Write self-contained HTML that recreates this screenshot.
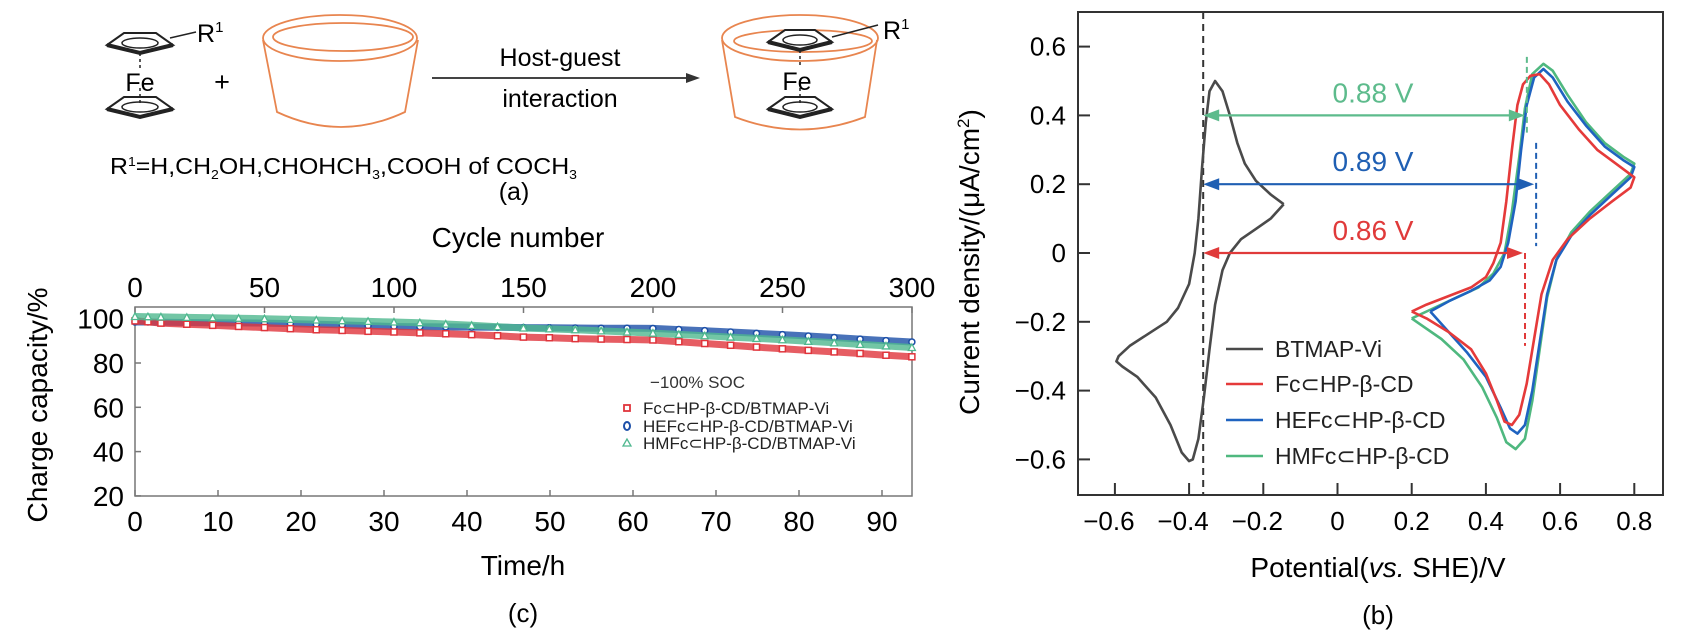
<!DOCTYPE html>
<html><head><meta charset="utf-8">
<style>
html,body{margin:0;padding:0;background:#fff;}
svg{display:block;font-family:"Liberation Sans",Arial,sans-serif;}
</style></head>
<body>
<svg id="fig" width="1687" height="633" viewBox="0 0 1687 633" xmlns="http://www.w3.org/2000/svg">
<g id="panelA">
  <g stroke="#222" fill="none">
    <polygon points="107,45 124,33 156,33 173,45 140,53" fill="#fff" stroke-width="2"/>
    <ellipse cx="140" cy="43" rx="18" ry="5" stroke-width="1.5"/>
    <path d="M107,45 L140,53 L173,45" stroke-width="4"/>
    <polygon points="107,109 124,97 156,97 173,109 140,117" fill="#fff" stroke-width="2"/>
    <ellipse cx="140" cy="107" rx="18" ry="5" stroke-width="1.5"/>
    <path d="M107,109 L140,117 L173,109" stroke-width="4"/>
    <line x1="140" y1="53" x2="140" y2="68" stroke-dasharray="3,3" stroke-width="1.5"/>
    <line x1="140" y1="88" x2="140" y2="104" stroke-dasharray="3,3" stroke-width="1.5"/>
    <line x1="170" y1="38" x2="196" y2="32" stroke-width="1.5"/>
  </g>
  <text x="197" y="42" font-size="25">R<tspan font-size="15" dy="-10">1</tspan></text>
  <text x="140" y="91" font-size="25" text-anchor="middle">Fe</text>
  <text x="222" y="91" font-size="27" text-anchor="middle">+</text>
  <g stroke="#e8854f" stroke-width="1.8" fill="none">
    <ellipse cx="340" cy="38" rx="77" ry="23"/>
    <ellipse cx="343" cy="37" rx="70" ry="14"/>
    <path d="M263,40 L277,112 Q341,142 405,112 L418,40"/>
  </g>
  <line x1="432" y1="78" x2="690" y2="78" stroke="#444" stroke-width="2"/>
  <polygon points="700,78 686,73 686,83" fill="#333"/>
  <text x="560" y="66" font-size="25" text-anchor="middle">Host-guest</text>
  <text x="560" y="107" font-size="25" text-anchor="middle">interaction</text>
  <g fill="none">
    <g stroke="#e8854f" stroke-width="1.8">
      <ellipse cx="800" cy="38" rx="78" ry="23"/>
      <ellipse cx="803" cy="41" rx="69" ry="11"/>
      <path d="M722,40 L735,117 Q800,142 865,117 L877,40"/>
    </g>
    <g stroke="#222">
      <polygon points="768,42 785,30 815,30 832,42 800,50" fill="#fff" stroke-width="2"/>
      <ellipse cx="800" cy="40" rx="17" ry="5" stroke-width="1.5"/>
      <path d="M768,42 L800,50 L832,42" stroke-width="4"/>
      <polygon points="768,109 785,97 815,97 832,109 800,117" fill="#fff" stroke-width="2"/>
      <ellipse cx="800" cy="107" rx="17" ry="5" stroke-width="1.5"/>
      <path d="M768,109 L800,117 L832,109" stroke-width="4"/>
      <line x1="800" y1="50" x2="800" y2="66" stroke-dasharray="3,3" stroke-width="1.5"/>
      <line x1="800" y1="88" x2="800" y2="104" stroke-dasharray="3,3" stroke-width="1.5"/>
      <line x1="832" y1="37" x2="878" y2="25" stroke-width="1.5"/>
    </g>
  </g>
  <text x="883" y="39" font-size="25">R<tspan font-size="15" dy="-10">1</tspan></text>
  <text x="797" y="90" font-size="25" text-anchor="middle">Fe</text>
  <text x="110" y="174" font-size="23" textLength="467" lengthAdjust="spacingAndGlyphs">R<tspan font-size="13" dy="-8">1</tspan><tspan dy="8">=H,CH</tspan><tspan font-size="13" dy="5">2</tspan><tspan dy="-5">OH,CHOHCH</tspan><tspan font-size="13" dy="5">3</tspan><tspan dy="-5">,COOH of COCH</tspan><tspan font-size="13" dy="5">3</tspan></text>
  <text x="514" y="200" font-size="25" text-anchor="middle">(a)</text>
</g>
<g id="panelC"></g>
<g id="panelB"></g>
</svg>
<script>
// ===== Panel (c) data =====
const cCycles = [0,5,10,20,30,40,50,60,70,80,90,100,110,120,130,140,150,160,170,180,190,200,210,220,230,240,250,260,270,280,290,300];
const cRed   = [99,98.6,98,97.5,97,96.5,96,95.5,95,94.7,94.3,94,93.6,93.2,92.8,92.3,91.7,91.4,91,90.8,90.6,90.4,89.6,88.8,88,87.2,86.4,85.7,85,84.3,83.5,82.8];
const cBlue  = [98.5,98.5,98.4,98.3,98.2,98.1,98,97.8,97.5,97.2,96.8,96.5,96.4,96.3,96.2,96.1,96,95.9,95.8,95.7,95.7,95.6,95.1,94.6,94,93.4,92.8,92.2,91.5,90.8,90.1,89.5];
const cGreen = [101,100.9,100.8,100.6,100.4,100.2,100,99.7,99.4,99.1,98.8,98.5,98.2,97.6,97,96.4,95.8,95.4,95,94.5,94,93.5,92.9,92.3,91.7,91.1,90.5,89.8,89.1,88.4,87.7,87];
const cTimeTicks = [0,10,20,30,40,50,60,70,80,90];
const cCycleTicks = [0,50,100,150,200,250,300];
const cYTicks = [20,40,60,80,100];
const cLegend = ["Fc\u2282HP-\u03b2-CD/BTMAP-Vi","HEFc\u2282HP-\u03b2-CD/BTMAP-Vi","HMFc\u2282HP-\u03b2-CD/BTMAP-Vi"];

// ===== Panel (b) data =====
const bBlackX = [-0.145,-0.18,-0.22,-0.26,-0.29,-0.31,-0.33,-0.345,-0.36,-0.375,-0.39,-0.40,-0.42,-0.45,-0.49,-0.54,-0.58,-0.596,-0.59,-0.56,-0.51,-0.46,-0.43,-0.40,-0.385,-0.375,-0.365,-0.355,-0.345,-0.33,-0.31,-0.29,-0.27,-0.25,-0.22,-0.18,-0.145];
const bBlackY = [0.142,0.10,0.07,0.04,0.0,-0.05,-0.15,-0.28,-0.42,-0.54,-0.60,-0.605,-0.58,-0.5,-0.42,-0.36,-0.33,-0.315,-0.30,-0.27,-0.235,-0.20,-0.16,-0.09,0.0,0.1,0.25,0.38,0.47,0.50,0.47,0.40,0.32,0.26,0.21,0.17,0.142];
const bRedX = [0.20,0.24,0.30,0.36,0.40,0.42,0.44,0.455,0.47,0.485,0.50,0.52,0.545,0.57,0.60,0.65,0.70,0.75,0.80,0.79,0.74,0.68,0.62,0.58,0.55,0.53,0.51,0.49,0.47,0.45,0.43,0.40,0.36,0.30,0.24,0.20];
const bRedY = [-0.17,-0.15,-0.125,-0.10,-0.07,-0.03,0.03,0.15,0.30,0.43,0.49,0.515,0.52,0.49,0.43,0.36,0.30,0.26,0.22,0.19,0.15,0.10,0.04,-0.02,-0.12,-0.25,-0.38,-0.47,-0.50,-0.49,-0.43,-0.35,-0.28,-0.23,-0.19,-0.17];
const bBlueX = [0.25,0.30,0.36,0.41,0.44,0.46,0.48,0.495,0.51,0.53,0.555,0.58,0.62,0.67,0.72,0.77,0.80,0.79,0.74,0.68,0.63,0.59,0.565,0.545,0.525,0.505,0.485,0.465,0.44,0.40,0.35,0.30,0.25];
const bBlueY = [-0.17,-0.14,-0.11,-0.08,-0.04,0.03,0.15,0.30,0.43,0.51,0.535,0.51,0.44,0.37,0.31,0.27,0.25,0.22,0.17,0.11,0.05,-0.02,-0.12,-0.26,-0.40,-0.50,-0.525,-0.51,-0.45,-0.36,-0.29,-0.23,-0.17];
const bGreenX = [0.20,0.26,0.32,0.38,0.42,0.45,0.47,0.49,0.505,0.525,0.555,0.58,0.62,0.67,0.72,0.77,0.80,0.79,0.74,0.68,0.63,0.59,0.565,0.545,0.525,0.505,0.48,0.455,0.43,0.39,0.34,0.28,0.20];
const bGreenY = [-0.19,-0.16,-0.13,-0.10,-0.06,0.0,0.12,0.28,0.42,0.52,0.55,0.53,0.46,0.38,0.32,0.28,0.26,0.23,0.18,0.12,0.06,-0.02,-0.13,-0.28,-0.43,-0.54,-0.57,-0.55,-0.48,-0.39,-0.31,-0.25,-0.19];
const bXTicks = [-0.6,-0.4,-0.2,0,0.2,0.4,0.6,0.8];
const bYTicks = [-0.6,-0.4,-0.2,0,0.2,0.4,0.6];
const bLegend = ["BTMAP-Vi","Fc\u2282HP-\u03b2-CD","HEFc\u2282HP-\u03b2-CD","HMFc\u2282HP-\u03b2-CD"];
const bGapValues = [0.88,0.89,0.86];
const bGapY = [0.4,0.2,0.0];
const bGapEnd = [0.505,0.53,0.50];
const bRefX = -0.362;

const NS = "http://www.w3.org/2000/svg";
function mk(parent, tag, attrs, text){
  const e = document.createElementNS(NS, tag);
  for (const k in attrs) e.setAttribute(k, attrs[k]);
  if (text !== undefined) e.textContent = text;
  parent.appendChild(e);
  return e;
}
const fmt = v => (v < 0 ? "\u2212" + Math.abs(v) : String(v));

// ===== Draw panel (c) =====
(function(){
  const g = document.getElementById("panelC");
  const L = 135, R = 912, T = 307, B = 496;
  const xH = h => L + h * 8.3;
  const xC = c => L + c * 2.59;
  const y = v => 363 - (v - 80) * 2.215;
  const hPerCycle = 93.6 / 300;
  let e;
  e = mk(g, "rect", {x:L, y:T, width:R-L, height:B-T, fill:"none", stroke:"#777", "stroke-width":1.5});
  
  
  cYTicks.forEach(v => {
    let t = mk(g, "line", {x1:L, y1:y(v), x2:L+6, y2:y(v), stroke:"#777", "stroke-width":1.5});
    
    
    let lb = mk(g, "text", {x:124, y:y(v)+10, "font-size":28, "text-anchor":"end"}, String(v));
    
    
  });
  cTimeTicks.forEach(v => {
    let t = mk(g, "line", {x1:xH(v), y1:B, x2:xH(v), y2:B-6, stroke:"#777", "stroke-width":1.5});
    
    
    let lb = mk(g, "text", {x:xH(v), y:531, "font-size":28, "text-anchor":"middle"}, String(v));
    
    
  });
  cCycleTicks.forEach(v => {
    let t = mk(g, "line", {x1:xC(v), y1:T, x2:xC(v), y2:T+6, stroke:"#777", "stroke-width":1.5});
    
    
    let lb = mk(g, "text", {x:xC(v), y:297, "font-size":28, "text-anchor":"middle"}, String(v));
    
    
  });
  e = mk(g, "text", {x:518, y:247, "font-size":28, "text-anchor":"middle"}, "Cycle number");
  
  
  e = mk(g, "text", {x:523, y:575, "font-size":28, "text-anchor":"middle"}, "Time/h");
  
  
  e = mk(g, "text", {x:0, y:0, "font-size":28, "text-anchor":"middle", transform:"translate(47,405) rotate(-90)"}, "Charge capacity/%");
  
  
  e = mk(g, "text", {x:523, y:622, "font-size":26, "text-anchor":"middle"}, "(c)");
  
  

  const series = [
    {vals:cBlue, col:"#1c4fa8", shape:"circle", name:"series-hefc"},
    {vals:cRed, col:"#e0353c", shape:"square", name:"series-fc"},
    {vals:cGreen, col:"#4fb88f", shape:"triangle", name:"series-hmfc"}
  ];
  series.forEach(s => {
    const sg = mk(g, "g", {});
    
    
    const pts = cCycles.map((c,i) => xH(c*hPerCycle).toFixed(1)+","+y(s.vals[i]).toFixed(1)).join(" ");
    let pl = mk(sg, "polyline", {points:pts, fill:"none", stroke:s.col, "stroke-width":7, "stroke-opacity":0.8, "stroke-linejoin":"round"});
    
    
    cCycles.forEach((c,i) => {
      const px = xH(c*hPerCycle), py = y(s.vals[i]);
      let m;
      if (s.shape === "circle") m = mk(sg, "circle", {cx:px, cy:py, r:3, fill:"#fff", stroke:s.col, "stroke-width":1.5});
      else if (s.shape === "square") m = mk(sg, "rect", {x:px-3, y:py-3, width:6, height:6, fill:"#fff", stroke:s.col, "stroke-width":1.5});
      else m = mk(sg, "polygon", {points:`${px},${py-3.5} ${px-3.5},${py+3} ${px+3.5},${py+3}`, fill:"#fff", stroke:s.col, "stroke-width":1.3});
      
      
    });
  });
  const lg = mk(g, "g", {});
  
  
  e = mk(lg, "text", {x:650, y:388, "font-size":17, fill:"#333"}, "\u2212100% SOC");
  
  
  const cols = ["#e0353c","#1c4fa8","#4fb88f"];
  const ly = [408,426,443];
  cLegend.forEach((t,i) => {
    let m;
    if (i === 0) m = mk(lg, "rect", {x:624, y:ly[i]-3, width:6, height:6, fill:"#fff", stroke:cols[i], "stroke-width":1.8});
    else if (i === 1) m = mk(lg, "ellipse", {cx:627, cy:ly[i], rx:3, ry:4, fill:"#fff", stroke:cols[i], "stroke-width":2});
    else m = mk(lg, "polygon", {points:`627,${ly[i]-4} 623,${ly[i]+3} 631,${ly[i]+3}`, fill:"#fff", stroke:cols[i], "stroke-width":1.3});
    
    
    let tx = mk(lg, "text", {x:643, y:ly[i]+6, "font-size":17, fill:"#222"}, t);
    
    
  });
})();

// ===== Draw panel (b) =====
(function(){
  const g = document.getElementById("panelB");
  const L = 1078, R = 1663, T = 12, B = 495;
  const x = v => 1337.5 + v * 371;
  const y = v => 253 - v * 344;
  let e;
  e = mk(g, "rect", {x:L, y:T, width:R-L, height:B-T, fill:"none", stroke:"#333", "stroke-width":2});
  
  
  bXTicks.forEach(v => {
    let t = mk(g, "line", {x1:x(v), y1:B, x2:x(v), y2:B-12, stroke:"#333", "stroke-width":2});
    
    
    let lb = mk(g, "text", {x:x(v) - (v<0?6:0), y:530, "font-size":26, "text-anchor":"middle"}, fmt(v));
    
    
  });
  bYTicks.forEach(v => {
    let t = mk(g, "line", {x1:L, y1:y(v), x2:L+12, y2:y(v), stroke:"#333", "stroke-width":2});
    
    
    let lb = mk(g, "text", {x:1066, y:y(v)+9, "font-size":26, "text-anchor":"end"}, fmt(v));
    
    
  });
  e = mk(g, "text", {x:0, y:0, "font-size":28, "text-anchor":"middle", transform:"translate(979,262) rotate(-90)"});
  
  
  e.innerHTML = 'Current density/(\u03bcA/cm<tspan font-size="17" dy="-10">2</tspan><tspan dy="10">)</tspan>';
  e = mk(g, "text", {x:1378, y:577, "font-size":28, "text-anchor":"middle"});
  
  
  e.innerHTML = 'Potential(<tspan font-style="italic">vs.</tspan> SHE)/V';
  e = mk(g, "text", {x:1378, y:624, "font-size":26, "text-anchor":"middle"}, "(b)");
  
  

  e = mk(g, "line", {x1:x(bRefX), y1:T, x2:x(bRefX), y2:B, stroke:"#333", "stroke-width":2, "stroke-dasharray":"7,5"});
  
  

  const curves = [
    {xs:bBlackX, ys:bBlackY, col:"#4a4a4a", name:"cv-btmap-vi"},
    {xs:bGreenX, ys:bGreenY, col:"#4fb87f", name:"cv-hmfc"},
    {xs:bBlueX, ys:bBlueY, col:"#1f63c0", name:"cv-hefc"},
    {xs:bRedX, ys:bRedY, col:"#e53a3a", name:"cv-fc"}
  ];
  curves.forEach(c => {
    const pts = c.xs.map((v,i) => x(v).toFixed(1)+","+y(c.ys[i]).toFixed(1)).join(" ");
    let p = mk(g, "polyline", {points:pts, fill:"none", stroke:c.col, "stroke-width":2.6, "stroke-linejoin":"round"});
    
    
  });

  const gapCols = ["#5dbb8c","#1f5fb3","#e03a3a"];
  const dashRanges = [[0.57,0.35],[0.32,0.02],[0.0,-0.27]];
  bGapValues.forEach((v,i) => {
    const yy = y(bGapY[i]), x1 = x(bRefX), x2 = x(bGapEnd[i]);
    let l = mk(g, "line", {x1:x1+12, y1:yy, x2:x2-12, y2:yy, stroke:gapCols[i], "stroke-width":2.2});
    
    
    let h1 = mk(g, "polygon", {points:`${x1},${yy} ${x1+16},${yy-6} ${x1+16},${yy+6}`, fill:gapCols[i]});
    
    
    let h2 = mk(g, "polygon", {points:`${x2},${yy} ${x2-16},${yy-6} ${x2-16},${yy+6}`, fill:gapCols[i]});
    
    
    let d = mk(g, "line", {x1:x2+2, y1:y(dashRanges[i][0]), x2:x2+2, y2:y(dashRanges[i][1]), stroke:gapCols[i], "stroke-width":2, "stroke-dasharray":"6,4"});
    
    
    let t = mk(g, "text", {x:1373, y:yy-13, "font-size":28, "text-anchor":"middle", fill:gapCols[i]}, v.toFixed(2) + " V");
    
    
  });

  const lg = mk(g, "g", {});
  
  
  const lcols = ["#4a4a4a","#e53a3a","#1f63c0","#4fb87f"];
  const lys = [349,384,420,456];
  bLegend.forEach((t,i) => {
    let l = mk(lg, "line", {x1:1226, y1:lys[i], x2:1263, y2:lys[i], stroke:lcols[i], "stroke-width":2.6});
    
    
    let tx = mk(lg, "text", {x:1275, y:lys[i]+8, "font-size":23, fill:"#222"}, t);
    
    
  });
})();
</script>
</body></html>
